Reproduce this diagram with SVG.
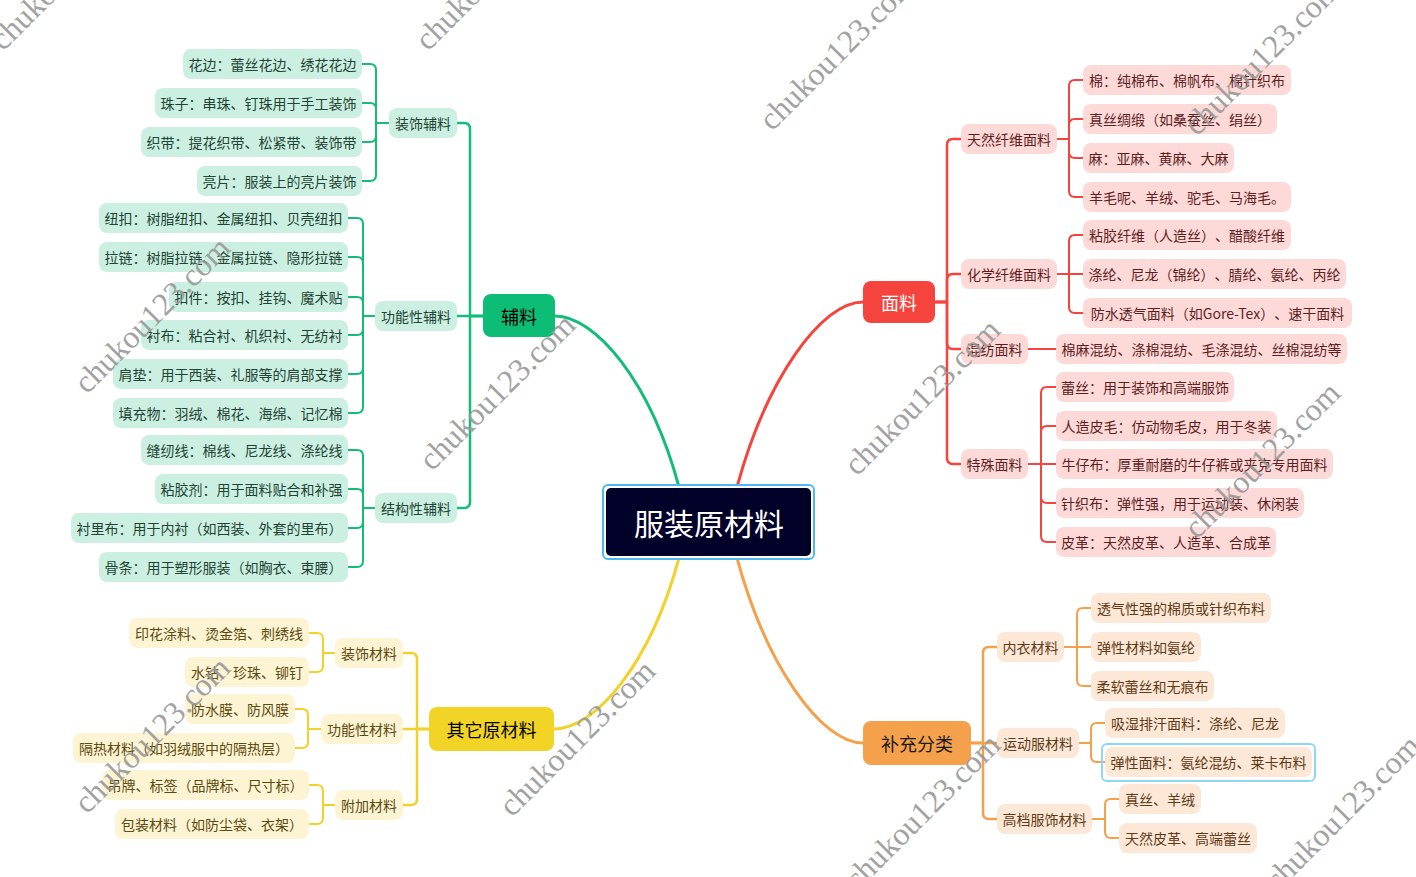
<svg xmlns="http://www.w3.org/2000/svg" width="1416" height="877" viewBox="0 0 1416 877">
<style>
text{font-family:"Noto Sans CJK SC","Microsoft YaHei",sans-serif;text-anchor:middle;dominant-baseline:central;text-spacing-trim:space-all}
.lf{font-size:14px}
.mn{font-size:18px}
.g{fill:#cbf0e1}.gt{fill:#1f4434}
.r{fill:#fdd9d8}.rt{fill:#5e1e1e}
.y{fill:#fdf4d4}.yt{fill:#5c4a0e}
.o{fill:#fde8d7}.ot{fill:#5e3a16}
.cg path{stroke:#12bd76}
.cr path{stroke:#f5443d}
.cy path{stroke:#f2d22a}
.co path{stroke:#f5a04b}
#connectors path{fill:none;stroke-width:2;stroke-linecap:round;stroke-linejoin:round}
#connectors path.main{stroke-width:3}
#connectors path.tr{stroke-width:2.5}
.wm{font-family:"Liberation Serif",serif;font-size:32px;fill:#999999;text-anchor:start;dominant-baseline:alphabetic;opacity:0.9}
</style>
<rect width="1416" height="877" fill="#ffffff"/>
<g id="connectors">
 <g class="cg">
  <path class="main" d="M555,316 C595,316 650,380 679,487"/>
  <path class="tr" d="M483,316 H470 V129 Q470,123 464,123 H457"/>
  <path class="tr" d="M483,316 H457"/>
  <path class="tr" d="M483,316 H470 V502 Q470,508 464,508 H457"/>
  <path d="M389,123 H376 V70 Q376,64 370,64 H362"/>
  <path d="M389,123 H376 V109 Q376,103 370,103 H362"/>
  <path d="M389,123 H376 V136 Q376,142 370,142 H362"/>
  <path d="M389,123 H376 V175 Q376,181 370,181 H362"/>
  <path d="M375,316 H363 V224 Q363,218 357,218 H348"/>
  <path d="M375,316 H363 V263 Q363,257 357,257 H348"/>
  <path d="M375,316 H363 V303 Q363,297 357,297 H348"/>
  <path d="M375,316 H363 V329 Q363,335 357,335 H348"/>
  <path d="M375,316 H363 V368 Q363,374 357,374 H348"/>
  <path d="M375,316 H363 V407 Q363,413 357,413 H348"/>
  <path d="M375,508 H363 V456 Q363,450 357,450 H348"/>
  <path d="M375,508 H363 V495 Q363,489 357,489 H348"/>
  <path d="M375,508 H363 V522 Q363,528 357,528 H348"/>
  <path d="M375,508 H363 V561 Q363,567 357,567 H348"/>
 </g>
 <g class="cr">
  <path class="main" d="M737,487 C766,380 821,302 863,302"/>
  <path class="tr" d="M935,302 H947 V145 Q947,139 953,139 H961"/>
  <path class="tr" d="M935,302 H947 V280 Q947,274 953,274 H961"/>
  <path class="tr" d="M935,302 H947 V343 Q947,349 953,349 H961"/>
  <path class="tr" d="M935,302 H947 V458 Q947,464 953,464 H961"/>
  <path d="M1057,139 H1069 V86 Q1069,80 1075,80 H1083"/>
  <path d="M1057,139 H1069 V125 Q1069,119 1075,119 H1083"/>
  <path d="M1057,139 H1069 V152 Q1069,158 1075,158 H1083"/>
  <path d="M1057,139 H1069 V191 Q1069,197 1075,197 H1083"/>
  <path d="M1057,274 H1069 V241 Q1069,235 1075,235 H1083"/>
  <path d="M1057,274 H1083"/>
  <path d="M1057,274 H1069 V307 Q1069,313 1075,313 H1083"/>
  <path d="M1028,349 H1056"/>
  <path d="M1028,464 H1041 V393 Q1041,387 1047,387 H1056"/>
  <path d="M1028,464 H1041 V432 Q1041,426 1047,426 H1056"/>
  <path d="M1028,464 H1056"/>
  <path d="M1028,464 H1041 V497 Q1041,503 1047,503 H1056"/>
  <path d="M1028,464 H1041 V536 Q1041,542 1047,542 H1056"/>
 </g>
 <g class="cy">
  <path class="main" d="M679,558 C650,665 595,729 554,729"/>
  <path class="tr" d="M429,729 H417 V659 Q417,653 411,653 H403"/>
  <path class="tr" d="M429,729 H403"/>
  <path class="tr" d="M429,729 H417 V799 Q417,805 411,805 H403"/>
  <path d="M335,653 H323 V639 Q323,633 317,633 H309"/>
  <path d="M335,653 H323 V666 Q323,672 317,672 H309"/>
  <path d="M321,729 H308 V715 Q308,709 302,709 H295"/>
  <path d="M321,729 H308 V742 Q308,748 302,748 H295"/>
  <path d="M335,805 H323 V791 Q323,785 317,785 H309"/>
  <path d="M335,805 H323 V818 Q323,824 317,824 H309"/>
 </g>
 <g class="co">
  <path class="main" d="M737,558 C766,665 821,743 863,743"/>
  <path class="tr" d="M971,743 H983 V653 Q983,647 989,647 H997"/>
  <path class="tr" d="M971,743 H997"/>
  <path class="tr" d="M971,743 H983 V813 Q983,819 989,819 H997"/>
  <path d="M1064,647 H1077 V614 Q1077,608 1083,608 H1091"/>
  <path d="M1064,647 H1091"/>
  <path d="M1064,647 H1077 V680 Q1077,686 1083,686 H1091"/>
  <path d="M1079,743 H1091 V729 Q1091,723 1097,723 H1105"/>
  <path d="M1079,743 H1091 V756 Q1091,762 1097,762 H1105"/>
  <path d="M1092,819 H1105 V805 Q1105,799 1111,799 H1119"/>
  <path d="M1092,819 H1105 V832 Q1105,838 1111,838 H1119"/>
 </g>
</g>

<g id="root">
 <rect x="603" y="485" width="211" height="74" rx="5" fill="#ffffff" stroke="#4fb8ee" stroke-width="2"/>
 <rect x="606" y="488" width="205" height="68" rx="5" fill="#000028"/>
 <text x="709" y="522" font-size="30" fill="#ffffff">服装原材料</text>
</g>

<!-- 辅料 -->
<g id="n-fuliao"><rect x="483" y="294" width="72" height="43" rx="8" fill="#0ebd75"/><text class="mn" x="519" y="316" fill="#000">辅料</text></g>
<g id="n-zsfl"><rect class="g" x="389" y="108" width="68" height="30" rx="8"/><text class="lf gt" x="423" y="123">装饰辅料</text></g>
<g id="n-gnxfl"><rect class="g" x="375" y="301" width="82" height="30" rx="8"/><text class="lf gt" x="416" y="316">功能性辅料</text></g>
<g id="n-jgxfl"><rect class="g" x="375" y="493" width="82" height="30" rx="8"/><text class="lf gt" x="416" y="508">结构性辅料</text></g>
<g id="n-g1"><rect class="g" x="183" y="49" width="179" height="30" rx="8"/><text class="lf gt" x="272.5" y="64">花边：蕾丝花边、绣花花边</text></g>
<g id="n-g2"><rect class="g" x="155" y="88" width="207" height="30" rx="8"/><text class="lf gt" x="258.5" y="103">珠子：串珠、钉珠用于手工装饰</text></g>
<g id="n-g3"><rect class="g" x="141" y="127" width="221" height="30" rx="8"/><text class="lf gt" x="251.5" y="142">织带：提花织带、松紧带、装饰带</text></g>
<g id="n-g4"><rect class="g" x="197" y="166" width="165" height="30" rx="8"/><text class="lf gt" x="279.5" y="181">亮片：服装上的亮片装饰</text></g>
<g id="n-g5"><rect class="g" x="99" y="203" width="249" height="30" rx="8"/><text class="lf gt" x="223.5" y="218">纽扣：树脂纽扣、金属纽扣、贝壳纽扣</text></g>
<g id="n-g6"><rect class="g" x="99" y="242" width="249" height="30" rx="8"/><text class="lf gt" x="223.5" y="257">拉链：树脂拉链、金属拉链、隐形拉链</text></g>
<g id="n-g7"><rect class="g" x="169" y="282" width="179" height="30" rx="8"/><text class="lf gt" x="258.5" y="297">扣件：按扣、挂钩、魔术贴</text></g>
<g id="n-g8"><rect class="g" x="141" y="320" width="207" height="30" rx="8"/><text class="lf gt" x="244.5" y="335">衬布：粘合衬、机织衬、无纺衬</text></g>
<g id="n-g9"><rect class="g" x="113" y="359" width="235" height="30" rx="8"/><text class="lf gt" x="230.5" y="374">肩垫：用于西装、礼服等的肩部支撑</text></g>
<g id="n-g10"><rect class="g" x="113" y="398" width="235" height="30" rx="8"/><text class="lf gt" x="230.5" y="413">填充物：羽绒、棉花、海绵、记忆棉</text></g>
<g id="n-g11"><rect class="g" x="141" y="435" width="207" height="30" rx="8"/><text class="lf gt" x="244.5" y="450">缝纫线：棉线、尼龙线、涤纶线</text></g>
<g id="n-g12"><rect class="g" x="155" y="474" width="193" height="30" rx="8"/><text class="lf gt" x="251.5" y="489">粘胶剂：用于面料贴合和补强</text></g>
<g id="n-g13"><rect class="g" x="71" y="513" width="277" height="30" rx="8"/><text class="lf gt" x="209.5" y="528">衬里布：用于内衬（如西装、外套的里布）</text></g>
<g id="n-g14"><rect class="g" x="99" y="552" width="249" height="30" rx="8"/><text class="lf gt" x="223.5" y="567">骨条：用于塑形服装（如胸衣、束腰）</text></g>

<!-- 面料 -->
<g id="n-mianliao"><rect x="863" y="281" width="72" height="42" rx="8" fill="#f5443d"/><text class="mn" x="899" y="302" fill="#ffffff">面料</text></g>
<g id="n-trxw"><rect class="r" x="961" y="124" width="96" height="30" rx="8"/><text class="lf rt" x="1009" y="139">天然纤维面料</text></g>
<g id="n-hxxw"><rect class="r" x="961" y="259" width="96" height="30" rx="8"/><text class="lf rt" x="1009" y="274">化学纤维面料</text></g>
<g id="n-hf"><rect class="r" x="961" y="334" width="67" height="30" rx="8"/><text class="lf rt" x="994.5" y="349">混纺面料</text></g>
<g id="n-ts"><rect class="r" x="961" y="449" width="67" height="30" rx="8"/><text class="lf rt" x="994.5" y="464">特殊面料</text></g>
<g id="n-r1"><rect class="r" x="1083" y="65" width="208" height="30" rx="8"/><text class="lf rt" x="1187" y="80">棉：纯棉布、棉帆布、棉针织布</text></g>
<g id="n-r2"><rect class="r" x="1083" y="104" width="194" height="30" rx="8"/><text class="lf rt" x="1180" y="119">真丝绸缎（如桑蚕丝、绢丝）</text></g>
<g id="n-r3"><rect class="r" x="1083" y="143" width="151" height="30" rx="8"/><text class="lf rt" x="1158.5" y="158">麻：亚麻、黄麻、大麻</text></g>
<g id="n-r4"><rect class="r" x="1083" y="182" width="208" height="30" rx="8"/><text class="lf rt" x="1187" y="197">羊毛呢、羊绒、驼毛、马海毛。</text></g>
<g id="n-r5"><rect class="r" x="1083" y="220" width="208" height="30" rx="8"/><text class="lf rt" x="1187" y="235">粘胶纤维（人造丝）、醋酸纤维</text></g>
<g id="n-r6"><rect class="r" x="1083" y="259" width="263" height="30" rx="8"/><text class="lf rt" x="1214.5" y="274">涤纶、尼龙（锦纶）、腈纶、氨纶、丙纶</text></g>
<g id="n-r7"><rect class="r" x="1083" y="298" width="269" height="30" rx="8"/><text class="lf rt" x="1217.5" y="313">防水透气面料（如Gore-Tex）、速干面料</text></g>
<g id="n-r8"><rect class="r" x="1056" y="334" width="291" height="30" rx="8"/><text class="lf rt" x="1201.5" y="349">棉麻混纺、涤棉混纺、毛涤混纺、丝棉混纺等</text></g>
<g id="n-r9"><rect class="r" x="1056" y="372" width="178" height="30" rx="8"/><text class="lf rt" x="1145" y="387">蕾丝：用于装饰和高端服饰</text></g>
<g id="n-r10"><rect class="r" x="1056" y="411" width="221" height="30" rx="8"/><text class="lf rt" x="1166.5" y="426">人造皮毛：仿动物毛皮，用于冬装</text></g>
<g id="n-r11"><rect class="r" x="1056" y="449" width="277" height="30" rx="8"/><text class="lf rt" x="1194.5" y="464">牛仔布：厚重耐磨的牛仔裤或夹克专用面料</text></g>
<g id="n-r12"><rect class="r" x="1056" y="488" width="248" height="30" rx="8"/><text class="lf rt" x="1180" y="503">针织布：弹性强，用于运动装、休闲装</text></g>
<g id="n-r13"><rect class="r" x="1056" y="527" width="220" height="30" rx="8"/><text class="lf rt" x="1166" y="542">皮革：天然皮革、人造革、合成革</text></g>

<!-- 其它原材料 -->
<g id="n-qt"><rect x="429" y="707" width="125" height="44" rx="8" fill="#f2d426"/><text class="mn" x="491.5" y="729" fill="#000">其它原材料</text></g>
<g id="n-zscl"><rect class="y" x="335" y="638" width="68" height="30" rx="8"/><text class="lf yt" x="369" y="653">装饰材料</text></g>
<g id="n-gnxcl"><rect class="y" x="321" y="714" width="82" height="30" rx="8"/><text class="lf yt" x="362" y="729">功能性材料</text></g>
<g id="n-fjcl"><rect class="y" x="335" y="790" width="68" height="30" rx="8"/><text class="lf yt" x="369" y="805">附加材料</text></g>
<g id="n-y1"><rect class="y" x="129" y="618" width="180" height="30" rx="8"/><text class="lf yt" x="219" y="633">印花涂料、烫金箔、刺绣线</text></g>
<g id="n-y2"><rect class="y" x="185" y="657" width="124" height="30" rx="8"/><text class="lf yt" x="247" y="672">水钻、珍珠、铆钉</text></g>
<g id="n-y3"><rect class="y" x="185" y="694" width="110" height="30" rx="8"/><text class="lf yt" x="240" y="709">防水膜、防风膜</text></g>
<g id="n-y4"><rect class="y" x="73" y="733" width="222" height="30" rx="8"/><text class="lf yt" x="184" y="748">隔热材料（如羽绒服中的隔热层）</text></g>
<g id="n-y5"><rect class="y" x="102" y="770" width="207" height="30" rx="8"/><text class="lf yt" x="205.5" y="785">吊牌、标签（品牌标、尺寸标）</text></g>
<g id="n-y6"><rect class="y" x="115" y="809" width="194" height="30" rx="8"/><text class="lf yt" x="212" y="824">包装材料（如防尘袋、衣架）</text></g>

<!-- 补充分类 -->
<g id="n-bc"><rect x="863" y="721" width="108" height="44" rx="8" fill="#f5a04b"/><text class="mn" x="917" y="743" fill="#1a1a1a">补充分类</text></g>
<g id="n-ny"><rect class="o" x="997" y="632" width="67" height="30" rx="8"/><text class="lf ot" x="1030.5" y="647">内衣材料</text></g>
<g id="n-ydf"><rect class="o" x="997" y="728" width="82" height="30" rx="8"/><text class="lf ot" x="1038" y="743">运动服材料</text></g>
<g id="n-gdfs"><rect class="o" x="997" y="804" width="95" height="30" rx="8"/><text class="lf ot" x="1044.5" y="819">高档服饰材料</text></g>
<g id="n-o1"><rect class="o" x="1091" y="593" width="180" height="30" rx="8"/><text class="lf ot" x="1181" y="608">透气性强的棉质或针织布料</text></g>
<g id="n-o2"><rect class="o" x="1091" y="632" width="110" height="30" rx="8"/><text class="lf ot" x="1146" y="647">弹性材料如氨纶</text></g>
<g id="n-o3"><rect class="o" x="1091" y="671" width="123" height="30" rx="8"/><text class="lf ot" x="1152.5" y="686">柔软蕾丝和无痕布</text></g>
<g id="n-o4"><rect class="o" x="1105" y="708" width="180" height="30" rx="8"/><text class="lf ot" x="1195" y="723">吸湿排汗面料：涤纶、尼龙</text></g>
<g id="n-o5"><rect x="1102" y="744" width="213" height="37" rx="5" fill="none" stroke="#8fd6f7" stroke-width="2"/><rect class="o" x="1105" y="747" width="207" height="30" rx="8"/><text class="lf ot" x="1208.5" y="762">弹性面料：氨纶混纺、莱卡布料</text></g>
<g id="n-o6"><rect class="o" x="1119" y="784" width="82" height="30" rx="8"/><text class="lf ot" x="1160" y="799">真丝、羊绒</text></g>
<g id="n-o7"><rect class="o" x="1119" y="823" width="138" height="30" rx="8"/><text class="lf ot" x="1188" y="838">天然皮革、高端蕾丝</text></g>

<g id="watermarks">
 <text class="wm" transform="translate(3,52) rotate(-45)">chukou123.com</text>
 <text class="wm" transform="translate(428,52) rotate(-45)">chukou123.com</text>
 <text class="wm" transform="translate(772,132) rotate(-45)">chukou123.com</text>
 <text class="wm" transform="translate(1197,137) rotate(-45)">chukou123.com</text>
 <text class="wm" transform="translate(87,395) rotate(-45)">chukou123.com</text>
 <text class="wm" transform="translate(432,472) rotate(-45)">chukou123.com</text>
 <text class="wm" transform="translate(857,477) rotate(-45)">chukou123.com</text>
 <text class="wm" transform="translate(1197,540) rotate(-45)">chukou123.com</text>
 <text class="wm" transform="translate(87,815) rotate(-45)">chukou123.com</text>
 <text class="wm" transform="translate(512,818) rotate(-45)">chukou123.com</text>
 <text class="wm" transform="translate(857,892) rotate(-45)">chukou123.com</text>
 <text class="wm" transform="translate(1277,893) rotate(-45)">chukou123.com</text>
</g>
</svg>
